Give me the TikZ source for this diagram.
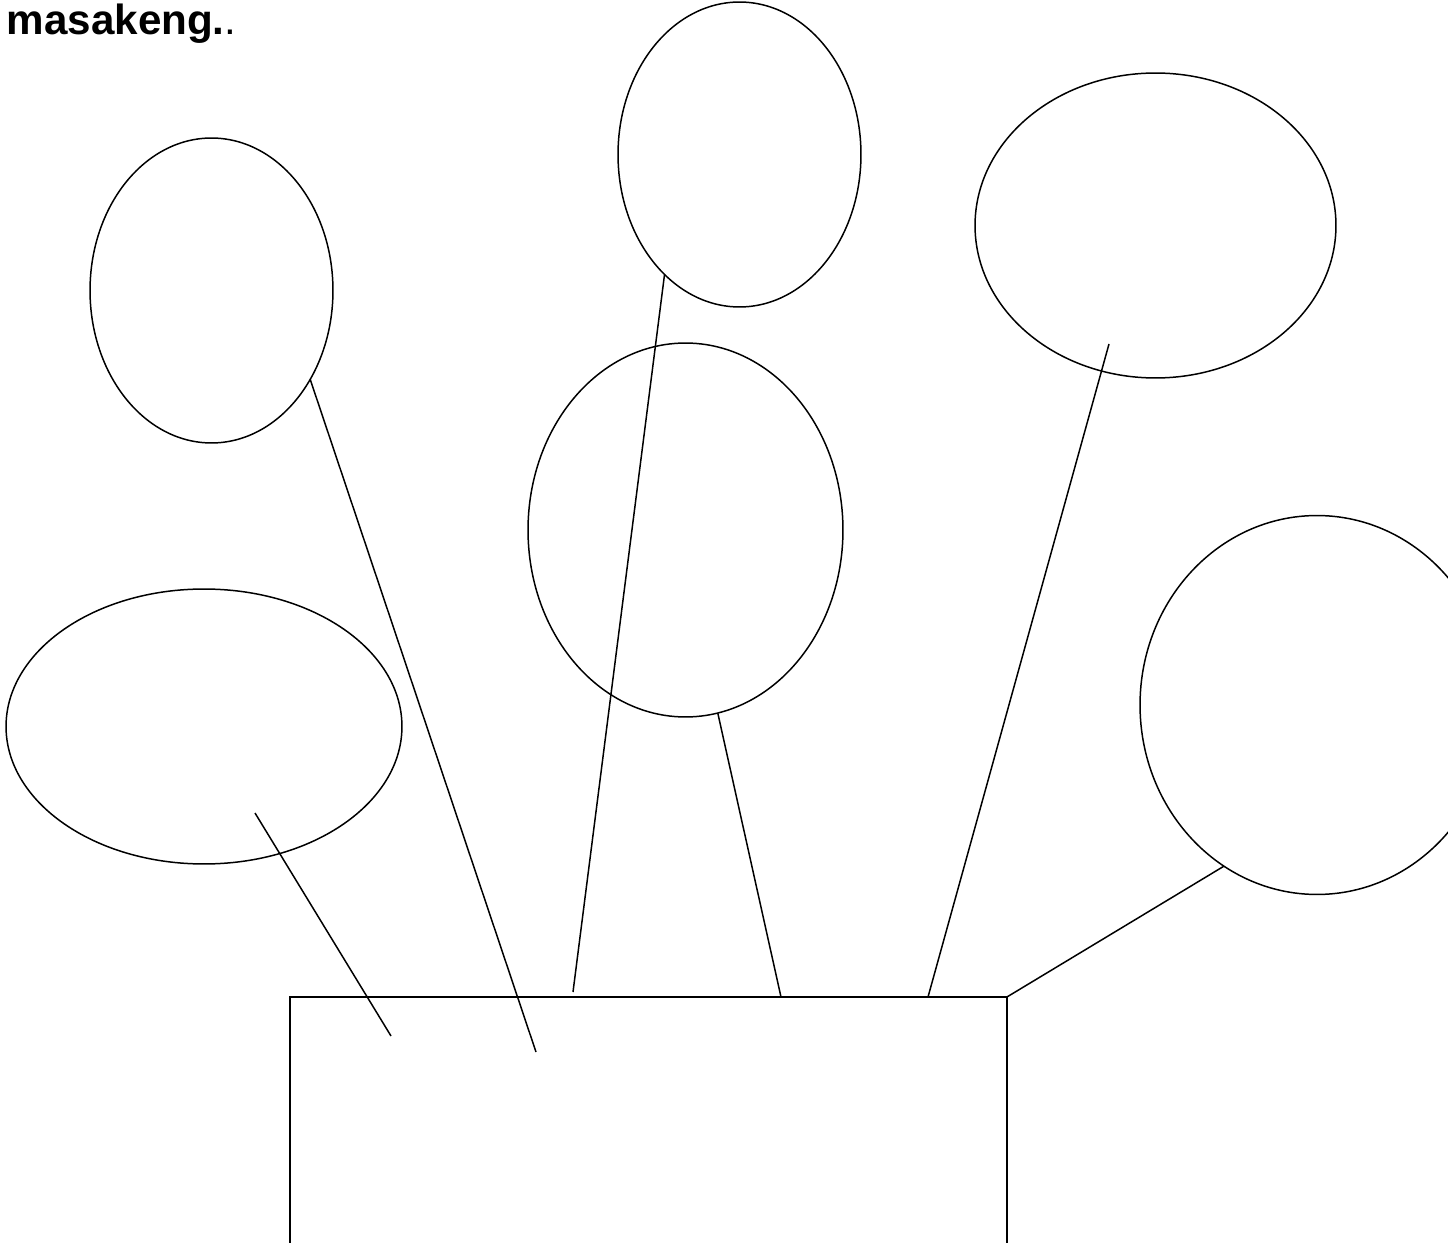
\documentclass[tikz,border=0pt]{standalone}
\usepackage{fontspec}
\setmainfont{Liberation Sans}
\usetikzlibrary{shapes.geometric}

\tikzset{
  balloon/.style={draw, ellipse, inner sep=0pt, outer sep=0pt},
  string/.style={line width=0.85pt}
}

\begin{document}
\begin{tikzpicture}[x=0.02cm, y=-0.02cm, line width=0.85pt]
    \clip (0,0) rectangle (1448,1243);
    \node[anchor=base west, inner sep=0pt, font=\fontsize{24}{28}\selectfont] (title) at (6,35) {{\bfseries masakeng.}.};
    \node[balloon, minimum width=4.86cm, minimum height=6.1cm] (b1) at (211.5,290.5) {};
    \node[balloon, minimum width=4.86cm, minimum height=6.1cm] (b2) at (739.5,154.5) {};
    \node[balloon, minimum width=7.22cm, minimum height=6.1cm] (b3) at (1155.5,225.5) {};
    \node[balloon, minimum width=6.3cm, minimum height=7.48cm] (b4) at (685.5,530) {};
    \node[balloon, minimum width=7.92cm, minimum height=5.5cm] (b5) at (204,726.5) {};
    \node[balloon, minimum width=7.08cm, minimum height=7.58cm] (b6) at (1317,705) {};
    \node[draw, inner sep=0pt, outer sep=0pt, minimum width=14.34cm, minimum height=8cm, anchor=north] (box) at (648.5,997) {};
    \coordinate (t1) at (536,1052);
    \coordinate (t2) at (573,992);
    \coordinate (s3) at (1109,344);
    \coordinate (t3) at (928,997);
    \coordinate (t4) at (781,997);
    \coordinate (s5) at (255,813);
    \coordinate (t5) at (391,1036);
    \draw[string] (b1.-42) -- (t1);
    \draw[string] (b2.-122) -- (t2);
    \draw[string] (s3) -- (t3);
    \draw[string] (b4.-80) -- (t4);
    \draw[string] (s5) -- (t5);
    \draw[string] (b6.-120) -- (box.north east);
\end{tikzpicture}
\end{document}
